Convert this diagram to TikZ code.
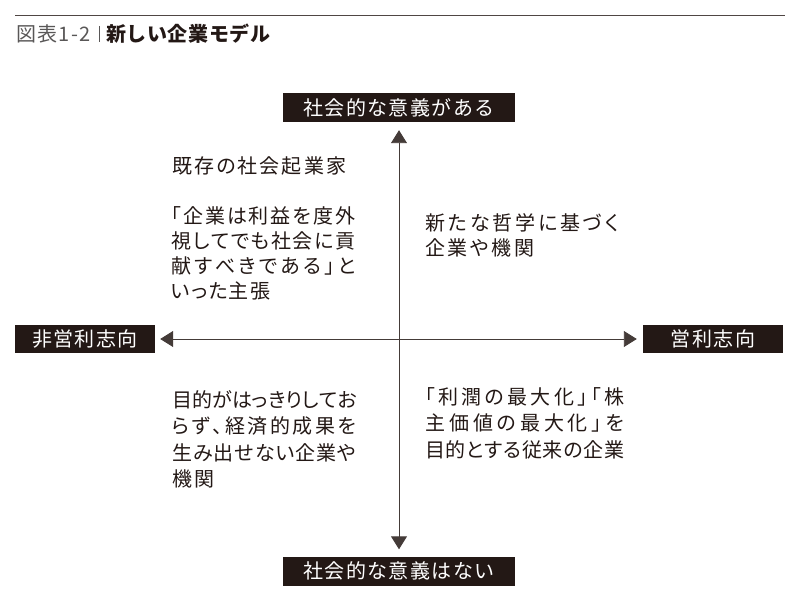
\documentclass[tikz,border=0pt]{standalone}
\usepackage{fontspec}
\usetikzlibrary{arrows.meta}
\setmainfont{Noto Sans CJK JP}
\newfontfamily\jp{Noto Sans CJK JP}[LetterSpace=7]
\newfontfamily\jpbody{Noto Sans CJK JP}[RawFeature=+palt]
\newfontfamily\jptitle{Noto Sans CJK JP}[LetterSpace=3]
\makeatletter
\newcommand\spreadline[2]{\hbox to #1{\spr@first#2\relax}}
\def\spr@first#1{#1\spr@rest}
\def\spr@rest#1{\ifx#1\relax\else\hfill#1\expandafter\spr@rest\fi}
\makeatother
\definecolor{ink}{HTML}{231815}
\definecolor{greyink}{HTML}{595757}
\tikzset{
  labelbox/.style={fill=ink, text=white, inner sep=0pt, font=\jp\fontsize{20}{24}\selectfont},
  wide/.style={minimum width=232pt, minimum height=29pt},
  narrow/.style={minimum width=140pt, minimum height=28pt},
  body/.style={anchor=north west, inner sep=0pt, align=left, text=ink},
  axis/.style={draw=ink!85, line width=0.9pt, {Triangle[length=13pt,width=16pt]}-{Triangle[length=13pt,width=16pt]}},
}
\begin{document}
\begin{tikzpicture}[x=1pt, y=-1pt]
\useasboundingbox (0,0) rectangle (800,601);
% title
\coordinate (ruleL) at (15,15);
\coordinate (ruleR) at (785,15);
\draw[ink!80, line width=0.9pt] (ruleL) -- (ruleR);
\node[anchor=west, inner sep=0pt, text=greyink, font=\jp\fontsize{20}{22}\selectfont] (fig) at (16,34) {図表1-2};
\coordinate (sepT) at (99,26);
\coordinate (sepB) at (99,42);
\draw[greyink, line width=0.7pt] (sepT) -- (sepB);
\node[anchor=west, inner sep=0pt, text=ink, font=\jptitle\bfseries\fontsize{20}{22}\selectfont] (title) at (106,34) {新しい企業モデル};
% axis labels
\node[labelbox, wide] (top) at (399,107.5) {社会的な意義がある};
\node[labelbox, wide] (bottom) at (399,571) {社会的な意義はない};
\node[labelbox, narrow] (left) at (85,339) {非営利志向};
\node[labelbox, narrow] (right) at (713,339) {営利志向};
% axes
\draw[axis, shorten <=8pt, shorten >=7pt] (top) -- (bottom);
\draw[axis, shorten <=5pt, shorten >=6pt] (left) -- (right);
% quadrant texts
\node[body, font=\jpbody\fontsize{20}{25}\selectfont] (tl1) at (172,156) {\spreadline{174pt}{既存の社会起業家}};
\node[body, font=\jpbody\fontsize{20}{25}\selectfont] (tl2) at (171,206) {%
\spreadline{184pt}{「企業は利益を度外}\\
\spreadline{184pt}{視してでも社会に貢}\\
\spreadline{184pt}{献すべきである」と}\\
\spreadline{99pt}{いった主張}};
\node[body, font=\jpbody\fontsize{20}{25}\selectfont] (tr) at (425,213) {%
\spreadline{194pt}{新たな哲学に基づく}\\
\spreadline{109pt}{企業や機関}};
\node[body, font=\jpbody\fontsize{20}{26.5}\selectfont] (bl) at (172,390) {%
\spreadline{185pt}{目的がはっきりしてお}\\
\spreadline{184pt}{らず、経済的成果を}\\
\spreadline{184pt}{生み出せない企業や}\\
\spreadline{42pt}{機関}};
\node[body, font=\jpbody\fontsize{20}{26.5}\selectfont] (br) at (425,387) {%
\spreadline{199pt}{「利潤の最大化」「株}\\
\spreadline{199pt}{主価値の最大化」を}\\
\spreadline{199pt}{目的とする従来の企業}};
\end{tikzpicture}
\end{document}
